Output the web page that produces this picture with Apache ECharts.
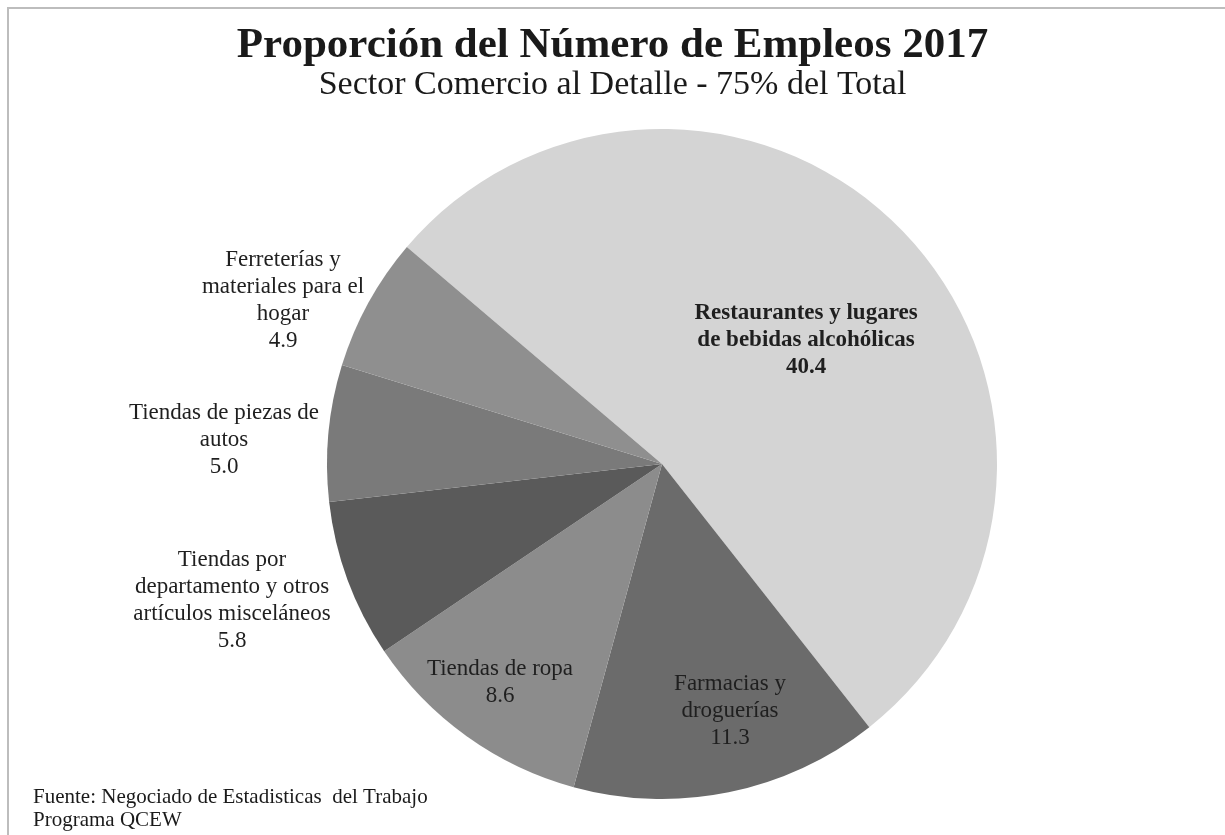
<!DOCTYPE html>
<html>
<head>
<meta charset="utf-8">
<script src="https://cdn.jsdelivr.net/npm/echarts@6/dist/echarts.min.js"></script>
<style>
html,body{margin:0;padding:0;background:#fff;}
#chart{width:1225px;height:835px;}
</style>
</head>
<body>
<div id="chart"></div>
<script>
var categories = [
  'Restaurantes y lugares\nde bebidas alcohólicas',
  'Farmacias y\ndroguerías',
  'Tiendas de ropa',
  'Tiendas por\ndepartamento y otros\nartículos misceláneos',
  'Tiendas de piezas de\nautos',
  'Ferreterías y\nmateriales para el\nhogar'
];
var values = [40.4, 11.3, 8.6, 5.8, 5.0, 4.9];
var titleText = 'Proporción del Número de Empleos 2017';
var subtitleText = 'Sector Comercio al Detalle - 75% del Total';
var sourceText = 'Fuente: Negociado de Estadisticas  del Trabajo\nPrograma QCEW';

var colors = ['#d4d4d4', '#6b6b6b', '#8c8c8c', '#5a5a5a', '#7a7a7a', '#8f8f8f'];
var labelPos = [[806, 340], [730, 711], [500, 682], [232, 600], [224, 440], [283, 300]];
var bold = [true, false, false, false, false, false];

var serif = '"Liberation Serif", "Times New Roman", serif';
var data = categories.map(function (c, i) {
  return {
    name: c,
    value: values[i],
    itemStyle: { color: colors[i] },
    label: { fontWeight: bold[i] ? 'bold' : 'normal' }
  };
});

var chart = echarts.init(document.getElementById('chart'), null, { renderer: 'canvas' });
chart.setOption({
  backgroundColor: '#ffffff',
  animation: false,
  title: [
    { text: titleText, left: 'center', top: 19,
      textStyle: { fontFamily: serif, fontSize: 43, fontWeight: 'bold', color: '#1a1a1a' } },
    { text: subtitleText, left: 'center', top: 63,
      textStyle: { fontFamily: serif, fontSize: 34, fontWeight: 'normal', color: '#1a1a1a' } },
    { text: sourceText, left: 28, top: 781,
      textStyle: { fontFamily: serif, fontSize: 21, fontWeight: 'normal', color: '#1a1a1a', lineHeight: 23 } }
  ],
  graphic: [
    { type: 'polyline', shape: { points: [[8, 840], [8, 8], [1230, 8]] },
      style: { stroke: '#bdbdbd', lineWidth: 2, fill: null }, silent: true }
  ],
  series: [{
    type: 'pie',
    center: [662, 464],
    radius: 335,
    startAngle: 139.6,
    clockwise: true,
    avoidLabelOverlap: false,
    itemStyle: { borderWidth: 0 },
    label: {
      show: true,
      position: 'outside',
      fontFamily: serif,
      fontSize: 23,
      lineHeight: 27,
      color: '#1f1f1f',
      align: 'center',
      formatter: function (p) { return p.name + '\n' + p.value.toFixed(1); }
    },
    labelLine: { show: false },
    labelLayout: function (p) {
      var pos = labelPos[p.dataIndex];
      return { x: pos[0], y: pos[1], align: 'center', verticalAlign: 'middle' };
    },
    data: data
  }]
});
</script>
</body>
</html>
